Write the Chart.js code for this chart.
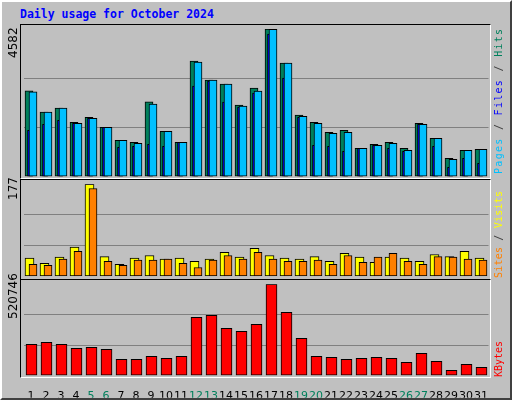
<!DOCTYPE html>
<html><head><meta charset="utf-8">
<script src="https://cdn.jsdelivr.net/npm/chart.js@4"></script>
<style>
html,body{margin:0;padding:0;background:#c0c0c0;width:512px;height:400px;overflow:hidden;}
#frame{position:absolute;left:0;top:0;width:508px;height:396px;border:2px solid;border-color:#ffffff #404040 #404040 #ffffff;}
.panel{position:absolute;left:20px;width:469px;border-top:1px solid #000;border-left:1px solid #000;border-bottom:1px solid #fff;border-right:1px solid #fff;}
canvas{position:absolute;left:0;top:0;}
.txt{position:absolute;white-space:nowrap;transform-origin:0 0;transform:rotate(-90deg);}
#title{position:absolute;left:20px;top:7px;font:bold 11.5px "DejaVu Sans Mono";color:#0000ff;}
.max{font:12px "DejaVu Sans";color:#000;}
.lab{font:10px "DejaVu Sans Mono";}
</style></head><body>
<div id="frame"></div>
<div id="title">Daily usage for October 2024</div>
<div class="panel" style="top:24px;height:153px"></div>
<div class="panel" style="top:179px;height:99px"></div>
<div class="panel" style="top:279px;height:97px"></div>
<canvas id="c1" width="512" height="400"></canvas>
<canvas id="c2" width="512" height="400"></canvas>
<canvas id="c3" width="512" height="400"></canvas>
<div class="txt max" style="left:6px;top:58px">4582</div>
<div class="txt max" style="left:6px;top:200px">177</div>
<div class="txt max" style="left:6px;top:319px">520746</div>
<div class="txt lab" style="left:493px;top:174px;letter-spacing:1.3px"><span style="color:#00c0ff">Pages</span><span style="color:#404040"> / </span><span style="color:#0000ff">Files</span><span style="color:#404040"> / </span><span style="color:#00805c">Hits</span></div>
<div class="txt lab" style="left:493px;top:278px;letter-spacing:0.2px"><span style="color:#ff8000">Sites</span><span style="color:#404040"> / </span><span style="color:#ffff00">Visits</span></div>
<div class="txt lab" style="left:493px;top:377px"><span style="color:#ff0000">KBytes</span></div>
<script>
const days = [1,2,3,4,5,6,7,8,9,10,11,12,13,14,15,16,17,18,19,20,21,22,23,24,25,26,27,28,29,30,31];
const dayLabels = days.map(String);
const weekendDays = [5,6,12,13,19,20,26,27];
const hits  = [2664,2001,2125,1690,1845,1534,1130,1068,2322,1410,1068,3587,2996,2872,2219,2747,4582,3525,1908,1690,1379,1441,881,1006,1068,881,1659,1192,570,819,850];
const pages = [2633,2001,2125,1659,1814,1534,1130,1037,2250,1410,1068,3556,2996,2872,2187,2654,4575,3525,1876,1659,1348,1379,881,975,1037,819,1628,1192,539,819,850];
const files = [1441,1628,1752,1659,1814,1534,912,943,1006,943,1068,2809,2965,2312,2156,2592,4427,3058,1845,975,943,788,881,975,881,788,1628,943,290,570,415];
const visits = [35,25,37,56,177,38,23,35,40,33,35,29,33,46,37,54,40,35,33,38,29,44,37,27,37,35,29,42,38,48,35];
const sites  = [23,21,33,48,169,29,21,31,31,33,25,17,31,40,33,46,33,29,29,31,23,40,27,37,44,29,23,38,37,33,31];
const kbytes = [178647,190050,178647,155841,161543,150140,93125,93125,110229,98826,110229,332588,343991,269871,252767,292677,520746,361095,212856,110229,104528,93125,98826,104528,98826,76020,127334,81722,30408,64617,47513];
const maxHits = 4582, maxVisits = 177, maxKB = 520746;

Chart.defaults.devicePixelRatio = 1;
const U = 1/15; // one pixel in day units
function pts(arr, shift){ return arr.map((v,i)=>({x:days[i]+shift*U, y:v})); }
function ds(arr, shift, color, w, order){
  return {data:pts(arr,shift), backgroundColor:color, borderColor:'#000', borderWidth:1,
          borderSkipped:false, barThickness:w, grouped:false, order:order};
}
function make(id, datasets, max, top, bottom, showX){
  new Chart(document.getElementById(id), {
    type:'bar',
    data:{datasets},
    options:{
      responsive:false, animation:false, events:[],
      layout:{padding:{left:23.5,right:23.5,top:top,bottom:showX?bottom-22:bottom}},
      plugins:{legend:{display:false},tooltip:{enabled:false}},
      scales:{
        x:{type:'linear',min:0.5,max:31.5,display:showX,offset:false,
           grid:{display:false,offset:false},border:{display:false},
           afterBuildTicks:s=>{s.ticks=days.map(d=>({value:d}));},
           afterFit:s=>{ if(showX) s.height=22; },
           ticks:{padding:6,autoSkip:false,maxRotation:0,font:{family:'DejaVu Sans',size:11},
             callback:(v,i)=>dayLabels[i],
             color:c=>weekendDays.includes(days[c.index])?'#00805c':'#000'}},
        y:{min:0,max:max,display:true,border:{display:false},
           afterFit:s=>{s.width=0;},
           afterBuildTicks:s=>{s.ticks=[0,max/3,2*max/3,max].map(v=>({value:v}));},
           ticks:{display:false},
           grid:{drawTicks:false,lineWidth:1,
             color:c=>(c.tick.value>0&&c.tick.value<max)?'#808080':'rgba(0,0,0,0)'}}
      }
    }
  });
}
make('c1',[ds(hits,-2,'#00805c',8,3), ds(files,-1,'#0000ff',5,2), ds(pages,2,'#00c0ff',8,1)], maxHits, 29, 400-176.7, false);
make('c2',[ds(visits,-1.5,'#ffff00',9,2), ds(sites,2,'#ff8000',8,1)], maxVisits, 184.3, 400-276.3, false);
make('c3',[ds(kbytes,0.5,'#ff0000',11,1)], maxKB, 284.3, 400-375.7, true);
</script>
</body></html>
